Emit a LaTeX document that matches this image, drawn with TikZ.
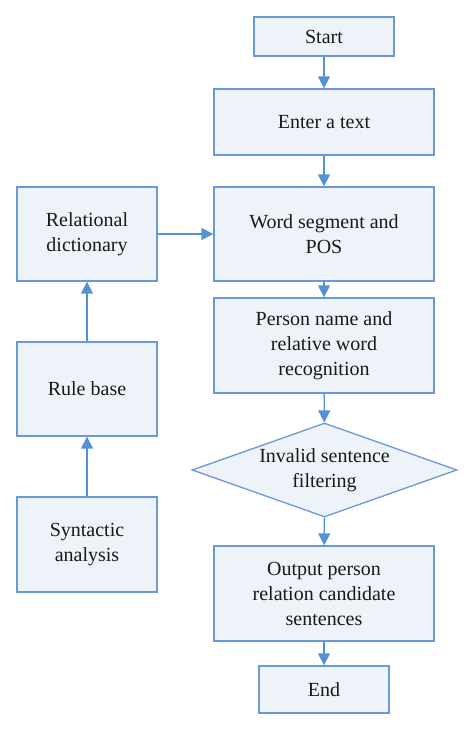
\documentclass[tikz,border=0pt]{standalone}
\usepackage{fontspec}
\setmainfont{Liberation Serif}
\usetikzlibrary{arrows.meta,shapes.geometric}
\definecolor{boxfill}{HTML}{EEF2F9}
\definecolor{boxline}{HTML}{6A9AD6}
\definecolor{arrowc}{HTML}{5592D4}
\begin{document}
\begin{tikzpicture}[x=1pt,y=-1pt,
  every node/.style={font=\rmfamily\fontsize{20}{25}\selectfont, text=black!90, align=center, inner sep=0pt},
  box/.style={draw=boxline, fill=boxfill, line width=1.3pt, rectangle},
  dec/.style={draw=boxline, fill=boxfill, line width=1.3pt, diamond, aspect=2.82},
  conn/.style={draw=arrowc, line width=1.4pt, -{Triangle[length=12pt,width=12pt]}}
]
\useasboundingbox (0,0) rectangle (474,731);
\node[box, minimum width=140pt, minimum height=39pt] (start) at (324,36.5) {Start};
\node[box, minimum width=220pt, minimum height=66pt] (enter) at (324,122) {Enter a text};
\node[box, minimum width=220pt, minimum height=94pt] (word) at (324,234) {Word segment and\\POS};
\node[box, minimum width=220pt, minimum height=95pt] (person) at (324,345.5) {Person name and\\relative word\\recognition};
\node[dec, minimum width=265pt, minimum height=94pt] (invalid) at (324.5,470) {Invalid sentence\\filtering};
\node[box, minimum width=220pt, minimum height=95pt] (output) at (324,593.5) {Output person\\relation candidate\\sentences};
\node[box, minimum width=130pt, minimum height=47pt] (end) at (324,689.5) {End};
\node[box, minimum width=140pt, minimum height=94pt] (reldict) at (87,234) {Relational\\dictionary};
\node[box, minimum width=140pt, minimum height=94pt] (rule) at (87,389) {Rule base};
\node[box, minimum width=140pt, minimum height=95pt] (syn) at (87,544.5) {Syntactic\\analysis};
\draw[conn] (start) -- (enter);
\draw[conn] (enter) -- (word);
\draw[conn] (word) -- (person);
\draw[conn] (person) -- (invalid);
\draw[conn] (invalid) -- (output);
\draw[conn] (output) -- (end);
\draw[conn] (reldict) -- (word);
\draw[conn] (rule) -- (reldict);
\draw[conn] (syn) -- (rule);
\end{tikzpicture}
\end{document}
